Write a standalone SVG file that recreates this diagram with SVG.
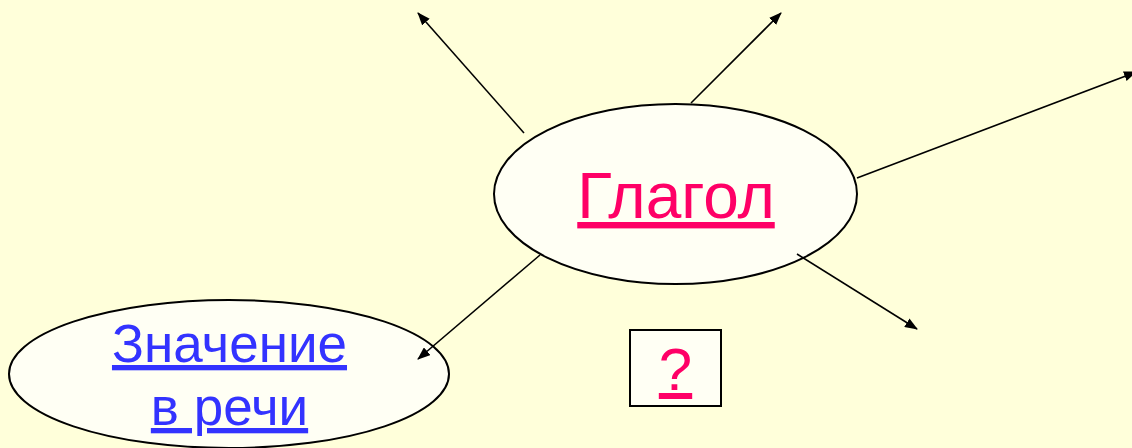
<svg xmlns="http://www.w3.org/2000/svg" width="1132" height="448" viewBox="0 0 1132 448">
<style>
.node{fill:#FFFFF4;stroke:#000;stroke-width:2}
.edge{stroke:#000;stroke-width:1.6;fill:none}
.t{font-family:"Liberation Sans",Arial,sans-serif;text-decoration:underline;text-anchor:middle}
.red{fill:#FF0066}
.blue{fill:#3333FF}
</style>
<defs>
<marker id="ah" markerUnits="userSpaceOnUse" markerWidth="13" markerHeight="10" refX="12" refY="5" orient="auto">
<path d="M0,0 L13,5 L0,10 z" fill="#000"/>
</marker>
</defs>
<rect width="1132" height="448" fill="#FFFFDA"/>
<g id="glagol">
<ellipse class="node" cx="675.5" cy="194" rx="181.5" ry="90"/>
<text class="t red" x="676" y="218" font-size="64">Глагол</text>
</g>
<g id="znachenie">
<ellipse class="node" cx="229" cy="374" rx="220" ry="74"/>
<text class="t blue" x="229.5" y="362" font-size="53">Значение</text>
<text class="t blue" x="229.5" y="425" font-size="53">в речи</text>
</g>
<g id="question">
<rect class="node" x="630" y="330" width="91" height="76"/>
<text class="t red" x="675.5" y="390" font-size="60">?</text>
</g>
<g id="connectors">
<line class="edge" x1="524" y1="133" x2="418" y2="13" marker-end="url(#ah)"/>
<line class="edge" x1="691" y1="103" x2="781" y2="13" marker-end="url(#ah)"/>
<line class="edge" x1="857" y1="178" x2="1136" y2="72" marker-end="url(#ah)"/>
<line class="edge" x1="797" y1="254" x2="917" y2="329" marker-end="url(#ah)"/>
<line class="edge" x1="540" y1="255" x2="418" y2="359" marker-end="url(#ah)"/>
</g>
</svg>
